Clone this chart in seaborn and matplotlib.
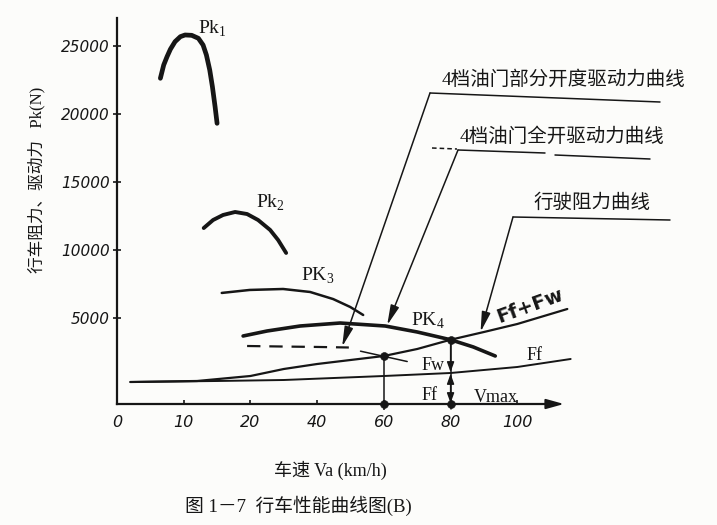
import numpy as np
import pandas as pd
import seaborn as sns
import matplotlib
matplotlib.use("Agg")
import matplotlib.pyplot as plt
from matplotlib.lines import Line2D

# ---------------- data ----------------
speed_ticks = [0, 10, 20, 40, 60, 80, 100]          # km/h, irregular axis labels
force_ticks = [5000, 10000, 15000, 20000, 25000]     # N

pk1_v = [6.5, 7.0, 7.5, 8.0, 8.7, 9.5, 10.2, 11.2, 12.2, 12.9, 13.4, 13.9, 14.3, 14.7, 15.0]
pk1_f = [22616, 23594, 24206, 24750, 25310, 25677, 25800, 25775, 25555, 25063, 24328,
         23226, 22001, 20531, 19306]

pk2_v = [13.0, 14.4, 15.9, 17.7, 19.5, 22.3, 25.9, 28.3, 30.7]
pk2_f = [11610, 12200, 12570, 12790, 12640, 12200, 11470, 10730, 9780]

pk3_v = [15.7, 19.9, 29.8, 37.9, 44.8, 49.9, 53.8]
pk3_f = [6840, 7060, 7130, 6910, 6390, 5810, 5220]

pk4_v = [18.9, 25.0, 34.9, 46.9, 60.4, 70.0, 80.0, 86.8, 93.4]
pk4_f = [3675, 4043, 4410, 4630, 4410, 3970, 3400, 2870, 2205]

partial_v = [19.5, 30, 40, 49.5]
partial_f = [2940, 2900, 2870, 2830]
partial_cross_v = [53, 67]
partial_cross_f = [2560, 1800]

ffw_v = [2, 12, 20, 30, 40, 50, 60, 70, 80, 90, 100, 115]
ffw_f = [294, 368, 735, 1250, 1617, 1911, 2205, 2720, 3400, 3969, 4557, 5660]

ff_v = [2, 15, 30, 45, 60, 80, 100, 116]
ff_f = [294, 368, 441, 588, 735, 956, 1397, 1985]

axis_y = -1323          # where the hand-drawn speed axis sits
v_point60 = 60
v_max = 80

INK = "#161616"
PAPER = "#fcfcfa"

# ---------------- style ----------------
sns.set_theme(style="white")
plt.rcParams["font.family"] = ["Liberation Serif", "Noto Sans CJK SC", "DejaVu Sans"]
plt.rcParams["axes.facecolor"] = PAPER
plt.rcParams["figure.facecolor"] = PAPER

W, H = 717, 525
fig = plt.figure(figsize=(W / 100, H / 100), dpi=100)
ax = fig.add_axes([105 / W, 115 / H, 485 / W, 400 / H])
ax.set_facecolor(PAPER)

S = np.array(speed_ticks, float)
P = np.arange(len(S), dtype=float)


def fwd(v):
    v = np.asarray(v, float)
    out = np.interp(v, S, P)
    out = np.where(v < S[0], (v - S[0]) / (S[1] - S[0]) + P[0], out)
    out = np.where(v > S[-1], P[-1] + (v - S[-1]) / (S[-1] - S[-2]), out)
    return out


def inv(p):
    p = np.asarray(p, float)
    out = np.interp(p, P, S)
    out = np.where(p < P[0], S[0] + (p - P[0]) * (S[1] - S[0]), out)
    out = np.where(p > P[-1], S[-1] + (p - P[-1]) * (S[-1] - S[-2]), out)
    return out


ax.set_xscale("function", functions=(fwd, inv))

# ---------------- curves ----------------
def curve(v, f, lw, ls="-"):
    df = pd.DataFrame({"v": v, "f": f})
    sns.lineplot(data=df, x="v", y="f", ax=ax, color=INK, lw=lw, ls=ls,
                 sort=False, estimator=None, solid_capstyle="round",
                 solid_joinstyle="round")

curve(pk1_v, pk1_f, 3.4)
curve(pk2_v, pk2_f, 2.8)
curve(pk3_v, pk3_f, 1.8)
curve(pk4_v, pk4_f, 2.6)
curve(partial_v, partial_f, 1.6, ls=(0, (6, 4)))
curve(partial_cross_v, partial_cross_f, 1.1)
curve(ffw_v, ffw_f, 1.6)
curve(ff_v, ff_f, 1.4)

# intersection points and verticals
f60 = np.interp(v_point60, ffw_v, ffw_f)
fmax = np.interp(v_max, ffw_v, ffw_f)
ffmax = np.interp(v_max, ff_v, ff_f)
ax.plot([v_point60, v_point60], [f60, axis_y - 1000], color=INK, lw=1.1)
ax.plot([v_max, v_max], [fmax, axis_y - 400], color=INK, lw=1.1)
sns.scatterplot(x=[v_point60, v_point60, v_max, v_max], y=[f60, axis_y, fmax, axis_y],
                ax=ax, color=INK, s=32, edgecolor=INK, zorder=5)
ax.annotate("", xy=(v_max, ffmax + 60), xytext=(v_max, fmax),
            arrowprops=dict(arrowstyle="-|>,head_length=0.5,head_width=0.18",
                            color=INK, lw=1.0, shrinkA=0, shrinkB=0))
ax.annotate("", xy=(v_max, axis_y + 60), xytext=(v_max, ffmax - 60),
            arrowprops=dict(arrowstyle="<|-|>,head_length=0.5,head_width=0.18",
                            color=INK, lw=1.0, shrinkA=0, shrinkB=0))

# ---------------- axes ----------------
ax.set_xlim(-1.8, 121.8)
ax.set_ylim(-1764, 27636)
for s in ["top", "right"]:
    ax.spines[s].set_visible(False)
ax.spines["bottom"].set_position(("data", axis_y))
ax.spines["bottom"].set_bounds(0, 111)
ax.spines["left"].set_position(("data", 0))
ax.spines["left"].set_bounds(axis_y, 27050)
for s in ["bottom", "left"]:
    ax.spines[s].set_color(INK)
    ax.spines[s].set_linewidth(1.6)
ax.annotate("", xy=(114, axis_y), xytext=(104, axis_y),
            arrowprops=dict(arrowstyle="-|>,head_length=0.9,head_width=0.25",
                            color=INK, lw=1.4, shrinkA=0, shrinkB=0))

ax.set_xticks(speed_ticks)
ax.set_xticklabels([str(t) for t in speed_ticks])
ax.set_yticks(force_ticks)
ax.set_yticklabels([str(t) for t in force_ticks])
ax.minorticks_off()
ax.tick_params(axis="x", direction="in", length=3, width=1.2, color=INK, pad=8,
               labelsize=11.5, labelcolor=INK, bottom=True)
ax.tick_params(axis="y", direction="inout", length=6, width=1.2, color=INK, pad=2,
               labelsize=11, labelcolor=INK, left=True)
for lab in ax.get_xticklabels() + ax.get_yticklabels():
    lab.set_fontstyle("italic")
    lab.set_family("DejaVu Sans")
ax.set_xlabel("")
ax.set_ylabel("")


def F(px, py):
    return (px / W, 1 - py / H)


CJK = ["Liberation Serif", "Noto Sans CJK SC"]

# axis titles and caption
fig.text(*F(37, 180), "行车阻力、驱动力   Pk(N)", rotation=90, ha="center", va="center",
         fontsize=12, color=INK, family=CJK)
fig.text(*F(330, 470), "车速 Va (km/h)", ha="center", va="center",
         fontsize=13, color=INK, family=CJK)
fig.text(*F(298, 506), "图 1－7  行车性能曲线图(B)", ha="center", va="center",
         fontsize=13.5, color=INK, family=CJK)

# curve labels
fig.text(*F(212, 29), "Pk$_\\mathregular{1}$", ha="center", va="center", fontsize=14, color=INK,
         family="Liberation Serif")
fig.text(*F(270, 203), "Pk$_\\mathregular{2}$", ha="center", va="center", fontsize=14, color=INK,
         family="Liberation Serif")
fig.text(*F(318, 276), "PK$_\\mathregular{3}$", ha="center", va="center", fontsize=14, color=INK,
         family="Liberation Serif")
fig.text(*F(428, 321), "PK$_\\mathregular{4}$", ha="center", va="center", fontsize=14, color=INK,
         family="Liberation Serif")
fig.text(*F(530, 306), "Ff+Fw", ha="center", va="center", fontsize=14, color=INK,
         family="DejaVu Sans", fontweight="bold", rotation=20)
fig.text(*F(535, 355), "Ff", ha="center", va="center", fontsize=13, color=INK,
         family="Liberation Serif")
fig.text(*F(433, 366), "Fw", ha="center", va="center", fontsize=13, color=INK,
         family="Liberation Serif")
fig.text(*F(430, 396), "Ff", ha="center", va="center", fontsize=13, color=INK,
         family="Liberation Serif")
fig.text(*F(496, 397), "Vmax", ha="center", va="center", fontsize=13, color=INK,
         family="Liberation Serif")

# call-outs
fig.text(*F(563, 80), "4档油门部分开度驱动力曲线", ha="center", va="center",
         fontsize=14, color=INK, family=CJK)
fig.text(*F(562, 137), "4档油门全开驱动力曲线", ha="center", va="center",
         fontsize=14, color=INK, family=CJK)
fig.text(*F(592, 203), "行驶阻力曲线", ha="center", va="center",
         fontsize=14, color=INK, family=CJK)


def uline(p0, p1, ls="-"):
    (x0, y0), (x1, y1) = F(*p0), F(*p1)
    fig.add_artist(Line2D([x0, x1], [y0, y1], transform=fig.transFigure,
                          color=INK, lw=1.1, ls=ls))

uline((430, 93), (660, 102))
uline((432, 148), (457, 149), ls=(0, (3, 2)))
uline((458, 150), (545, 153))
uline((555, 155), (650, 159))
uline((513, 217), (670, 220))

arrow_kw = dict(arrowstyle="-|>,head_length=1.0,head_width=0.22", color=INK, lw=1.1,
                shrinkA=0, shrinkB=0)
ax.annotate("", xy=(47.5, 2900), xytext=F(430, 93), textcoords="figure fraction",
            arrowprops=arrow_kw)
ax.annotate("", xy=(61, 4480), xytext=F(458, 150), textcoords="figure fraction",
            arrowprops=arrow_kw)
ax.annotate("", xy=(89, 3980), xytext=F(513, 217), textcoords="figure fraction",
            arrowprops=arrow_kw)

fig.savefig("out.png", dpi=100, facecolor=PAPER)
